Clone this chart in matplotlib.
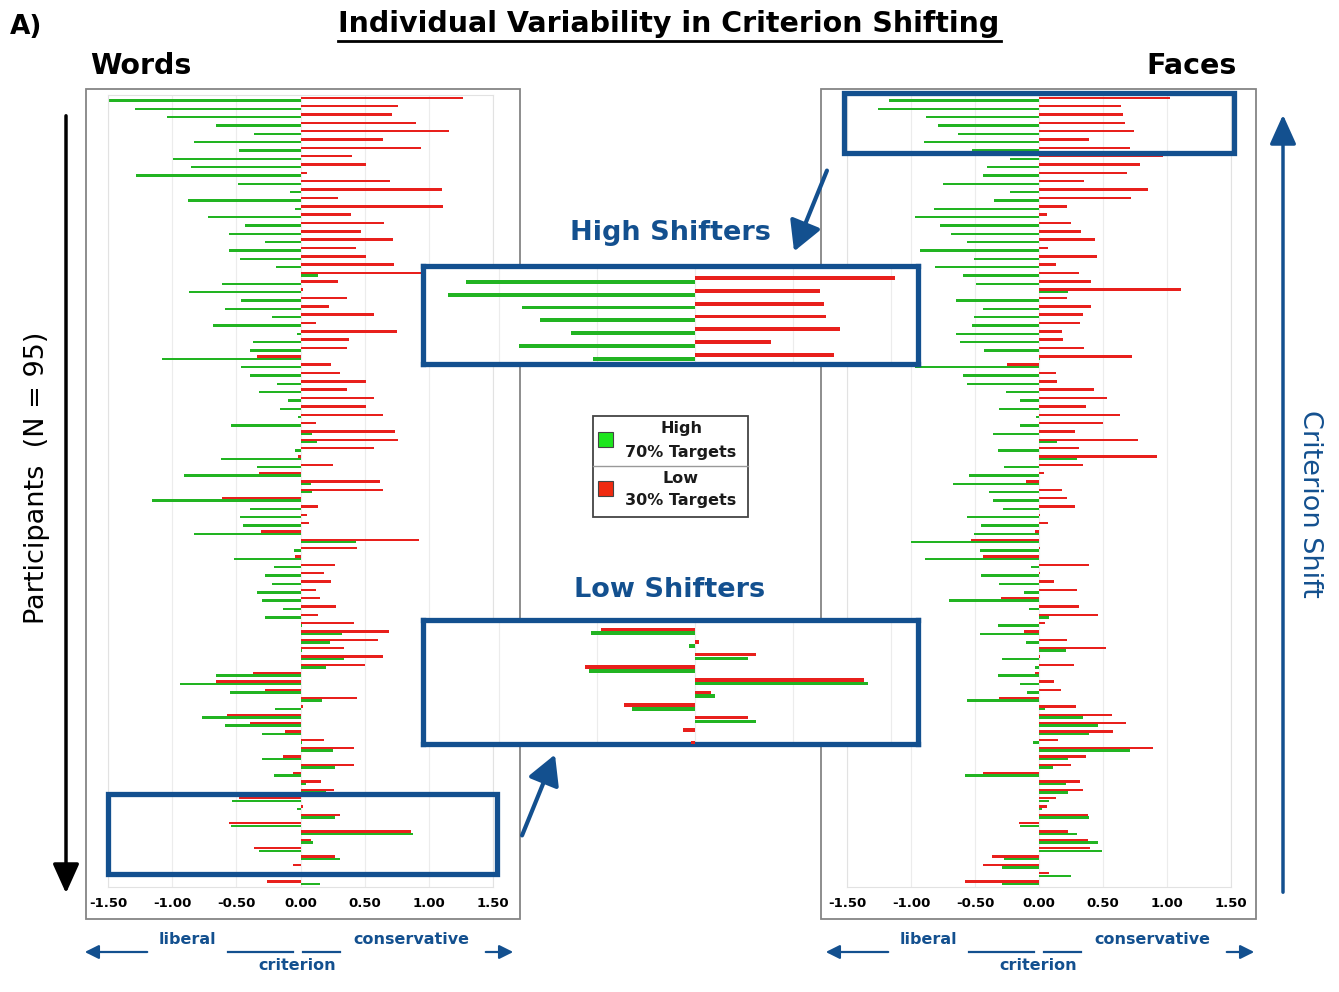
import numpy as np
import matplotlib
matplotlib.use("Agg")
import matplotlib.pyplot as plt
from matplotlib.patches import Rectangle, FancyArrowPatch
from matplotlib.lines import Line2D

# criterion shift per participant (N = 95), first row = top of the panel
# "high" = 70% targets (green), "low" = 30% targets (red)
words_high = [
    -1.50, -1.29, -1.04, -0.66, -0.36, -0.83, -0.48, -0.99, -0.85, -1.28,
    -0.49, -0.08, -0.88, -0.04, -0.72, -0.43, -0.56, -0.28, -0.56, -0.47,
    -0.19, 0.14, -0.61, -0.87, -0.46, -0.59, -0.22, -0.68, -0.03, -0.37,
    -0.39, -1.08, -0.46, -0.39, -0.18, -0.32, -0.10, -0.16, -0.02, -0.54,
    0.09, 0.13, -0.04, -0.62, -0.34, -0.91, 0.08, 0.09, -1.16, -0.39,
    -0.47, -0.45, -0.83, 0.43, -0.05, -0.52, -0.21, -0.28, -0.22, -0.34,
    -0.30, -0.14, -0.28, 0.01, 0.32, 0.23, 0.01, 0.34, 0.20, -0.66,
    -0.94, -0.55, 0.17, -0.20, -0.77, -0.59, -0.30, 0.01, 0.25, -0.30,
    0.27, -0.21, 0.04, 0.20, -0.53, -0.03, 0.27, -0.54, 0.88, 0.10,
    -0.32, 0.31, 0.00, 0.03, 0.15,
]
words_low = [
    1.27, 0.76, 0.71, 0.90, 1.16, 0.64, 0.94, 0.40, 0.51, 0.05,
    0.70, 1.10, 0.29, 1.11, 0.39, 0.65, 0.47, 0.72, 0.43, 0.51,
    0.73, 0.95, 0.29, 0.02, 0.36, 0.22, 0.57, 0.12, 0.75, 0.38,
    0.36, -0.34, 0.24, 0.31, 0.51, 0.36, 0.57, 0.51, 0.64, 0.12,
    0.74, 0.76, 0.57, -0.02, 0.25, -0.32, 0.62, 0.64, -0.61, 0.14,
    0.05, 0.07, -0.31, 0.92, 0.44, -0.04, 0.27, 0.18, 0.24, 0.12,
    0.15, 0.28, 0.14, 0.42, 0.69, 0.60, 0.34, 0.64, 0.50, -0.37,
    -0.66, -0.28, 0.44, 0.02, -0.57, -0.39, -0.12, 0.18, 0.42, -0.14,
    0.42, -0.06, 0.16, 0.26, -0.48, 0.02, 0.31, -0.56, 0.86, 0.08,
    -0.36, 0.27, -0.06, -0.02, -0.26,
]
faces_high = [
    -1.17, -1.26, -0.88, -0.79, -0.63, -0.90, -0.52, -0.23, -0.41, -0.44,
    -0.75, -0.23, -0.35, -0.82, -0.97, -0.77, -0.69, -0.56, -0.93, -0.51,
    -0.81, -0.59, -0.49, 0.23, -0.65, -0.44, -0.51, -0.52, -0.65, -0.62,
    -0.43, 0.01, -0.97, -0.59, -0.56, -0.26, -0.15, -0.31, -0.02, -0.15,
    -0.36, 0.14, -0.32, 0.30, -0.27, -0.55, -0.67, -0.39, -0.36, -0.28,
    -0.56, -0.45, -0.51, -1.00, -0.46, -0.89, -0.06, -0.45, -0.31, -0.12,
    -0.70, -0.08, 0.08, -0.32, -0.46, -0.10, 0.21, -0.29, -0.03, -0.32,
    -0.15, -0.09, -0.56, 0.05, 0.34, 0.46, 0.39, -0.05, 0.71, 0.23,
    0.11, -0.58, 0.21, 0.23, 0.08, 0.02, 0.39, -0.15, 0.30, 0.46,
    0.49, -0.27, -0.29, 0.25, -0.29,
]
faces_low = [
    1.02, 0.64, 0.66, 0.67, 0.74, 0.39, 0.71, 0.97, 0.79, 0.69,
    0.35, 0.85, 0.72, 0.22, 0.06, 0.25, 0.33, 0.44, 0.07, 0.45,
    0.13, 0.31, 0.41, 1.11, 0.22, 0.41, 0.34, 0.32, 0.18, 0.19,
    0.35, 0.73, -0.25, 0.13, 0.14, 0.43, 0.53, 0.37, 0.63, 0.50,
    0.28, 0.77, 0.31, 0.92, 0.34, 0.04, -0.10, 0.18, 0.22, 0.28,
    0.01, 0.07, -0.03, -0.53, 0.01, -0.44, 0.39, 0.01, 0.12, 0.30,
    -0.30, 0.31, 0.46, 0.05, -0.12, 0.22, 0.52, 0.01, 0.27, -0.03,
    0.12, 0.17, -0.31, 0.29, 0.57, 0.68, 0.58, 0.15, 0.89, 0.37,
    0.25, -0.44, 0.32, 0.34, 0.13, 0.06, 0.38, -0.16, 0.23, 0.38,
    0.40, -0.37, -0.44, 0.08, -0.58,
]

ticks = [-1.5, -1.0, -0.5, 0.0, 0.5, 1.0, 1.5]
tick_labels = ["-1.50", "-1.00", "-0.50", "0.00", "0.50", "1.00", "1.50"]

GREEN = "#22b422"
RED = "#e8201c"
BLUE = "#13508f"
W, H = 1339, 992

fig = plt.figure(figsize=(W / 100, H / 100), dpi=100)
fig.patch.set_facecolor("white")


def fx(x):
    return x / W


def fy(y):
    return 1 - y / H


def fig_rect(x0, y0, x1, y1):
    # pixel box (origin top-left) -> [left, bottom, width, height]
    return [fx(x0), fy(y1), (x1 - x0) / W, (y1 - y0) / H]


def draw_bars(ax, high, low):
    rows = np.arange(len(high))
    ax.barh(rows + 0.15, high, height=0.29, color=GREEN, linewidth=0, zorder=2)
    ax.barh(rows - 0.15, low, height=0.29, color=RED, linewidth=0, zorder=3)
    for t in ticks:
        ax.axvline(t, color="#ececec", lw=0.8, zorder=0)


def panel(box, high, low):
    ax = fig.add_axes(fig_rect(*box))
    draw_bars(ax, high, low)
    ax.set_xlim(-1.5, 1.5)
    ax.set_ylim(len(high) - 0.5, -0.5)
    ax.set_yticks([])
    ax.set_xticks(ticks)
    ax.set_xticklabels(tick_labels, fontsize=9.5, fontweight="bold")
    ax.tick_params(axis="x", length=0, pad=7)
    for s in ax.spines.values():
        s.set_color("#e2e2e2")
        s.set_linewidth(0.8)
    return ax


def inset(box, high, low, ylim):
    ax = fig.add_axes(fig_rect(*box))
    draw_bars(ax, high, low)
    ax.set_xlim(-1.39, 1.135)
    ax.set_ylim(*ylim)
    ax.set_xticks([])
    ax.set_yticks([])
    for s in ax.spines.values():
        s.set_color(BLUE)
        s.set_linewidth(3.8)
    return ax


# outer gray frames of the two panels
for x0, x1 in [(86, 520), (821, 1256)]:
    fig.add_artist(Rectangle((fx(x0), fy(919)), (x1 - x0) / W, (919 - 89) / H,
                             transform=fig.transFigure, fill=False,
                             ec="#858585", lw=1.3, zorder=-1))

ax_w = panel((108, 95, 493, 887), words_high, words_low)
ax_f = panel((847, 95, 1231, 887), faces_high, faces_low)

# highlighted groups in the main panels
ax_w.add_patch(Rectangle((-1.5, 83.38), 3.03, 9.6, fill=False, ec=BLUE,
                         lw=3.8, clip_on=False, zorder=5))
ax_f.add_patch(Rectangle((-1.52, -0.74), 3.04, 7.2, fill=False, ec=BLUE,
                         lw=3.8, clip_on=False, zorder=5))

# zoomed insets
inset((422.5, 265.5, 917.5, 363.5), faces_high, faces_low, (6.52, -1.13))
inset((422.5, 619.5, 917.5, 743.5), words_high, words_low, (92.9, 83.06))


def arrow(p0, p1, color, lw=3, hl=1.0, hw=0.55, ms=18):
    fig.add_artist(FancyArrowPatch((fx(p0[0]), fy(p0[1])), (fx(p1[0]), fy(p1[1])),
                                   transform=fig.transFigure,
                                   arrowstyle=f"-|>,head_length={hl},head_width={hw}",
                                   mutation_scale=ms, color=color, lw=lw, zorder=6))


arrow((828, 168), (793, 254), BLUE)
arrow((521, 838), (556, 752), BLUE)
arrow((66, 113), (66, 896), "black", lw=2.5, hl=1.0, hw=0.45)
arrow((1283, 895), (1283, 112), BLUE, lw=2.5, hl=1.0, hw=0.45)

# titles
fig.text(fx(10), fy(27), "A)", fontsize=19, fontweight="bold", ha="left", va="center")
fig.text(fx(669), fy(24), "Individual Variability in Criterion Shifting",
         fontsize=20.5, fontweight="bold", ha="center", va="center")
fig.add_artist(Line2D([fx(338), fx(1001)], [fy(41), fy(41)], color="black", lw=2,
                      transform=fig.transFigure))
fig.text(fx(90), fy(66), "Words", fontsize=20.5, fontweight="bold", ha="left", va="center")
fig.text(fx(1237), fy(66), "Faces", fontsize=20.5, fontweight="bold", ha="right", va="center")
fig.text(fx(37), fy(478), "Participants  (N = 95)", fontsize=19.5, rotation=90,
         ha="center", va="center")
fig.text(fx(1310), fy(504), "Criterion Shift", fontsize=19.5, rotation=-90,
         color=BLUE, ha="center", va="center")
fig.text(fx(670), fy(233), "High Shifters", fontsize=19.5, fontweight="bold",
         color=BLUE, ha="center", va="center")
fig.text(fx(670), fy(590), "Low Shifters", fontsize=19.5, fontweight="bold",
         color=BLUE, ha="center", va="center")

# legend
fig.add_artist(Rectangle((fx(593), fy(517)), 155 / W, 101 / H, transform=fig.transFigure,
                         fc="white", ec="#444444", lw=1.3, zorder=4))
fig.add_artist(Line2D([fx(593), fx(748)], [fy(466), fy(466)], color="#999999", lw=1,
                      transform=fig.transFigure, zorder=5))
for y0, col in [(432, "#1ee61e"), (481, "#f02a10")]:
    fig.add_artist(Rectangle((fx(598), fy(y0 + 15)), 15 / W, 15 / H,
                             transform=fig.transFigure, fc=col, ec="#444444",
                             lw=0.8, zorder=5))
for y, txt in [(429, "High"), (453, "70% Targets"), (478, "Low"), (501, "30% Targets")]:
    fig.text(fx(681), fy(y), txt, fontsize=11.5, fontweight="bold", color="#1a1a1a",
             ha="center", va="center", zorder=6)

# liberal / conservative criterion scale under each panel
for dx in (0, 741):
    fig.text(fx(187 + dx), fy(939), "liberal", fontsize=11.5, fontweight="bold",
             color=BLUE, ha="center", va="center")
    fig.text(fx(411 + dx), fy(939), "conservative", fontsize=11.5, fontweight="bold",
             color=BLUE, ha="center", va="center")
    fig.text(fx(297 + dx), fy(965), "criterion", fontsize=11.5, fontweight="bold",
             color=BLUE, ha="center", va="center")
    arrow((150 + dx, 952), (82 + dx, 952), BLUE, lw=1.6, hl=0.6, hw=0.3, ms=14)
    arrow((483 + dx, 952), (516 + dx, 952), BLUE, lw=1.6, hl=0.6, hw=0.3, ms=14)
    for a, b in [(228, 293), (303, 340)]:
        fig.add_artist(Line2D([fx(a + dx), fx(b + dx)], [fy(952), fy(952)],
                              color=BLUE, lw=1.6, transform=fig.transFigure))

fig.savefig("out.png", dpi=100, facecolor="white")
